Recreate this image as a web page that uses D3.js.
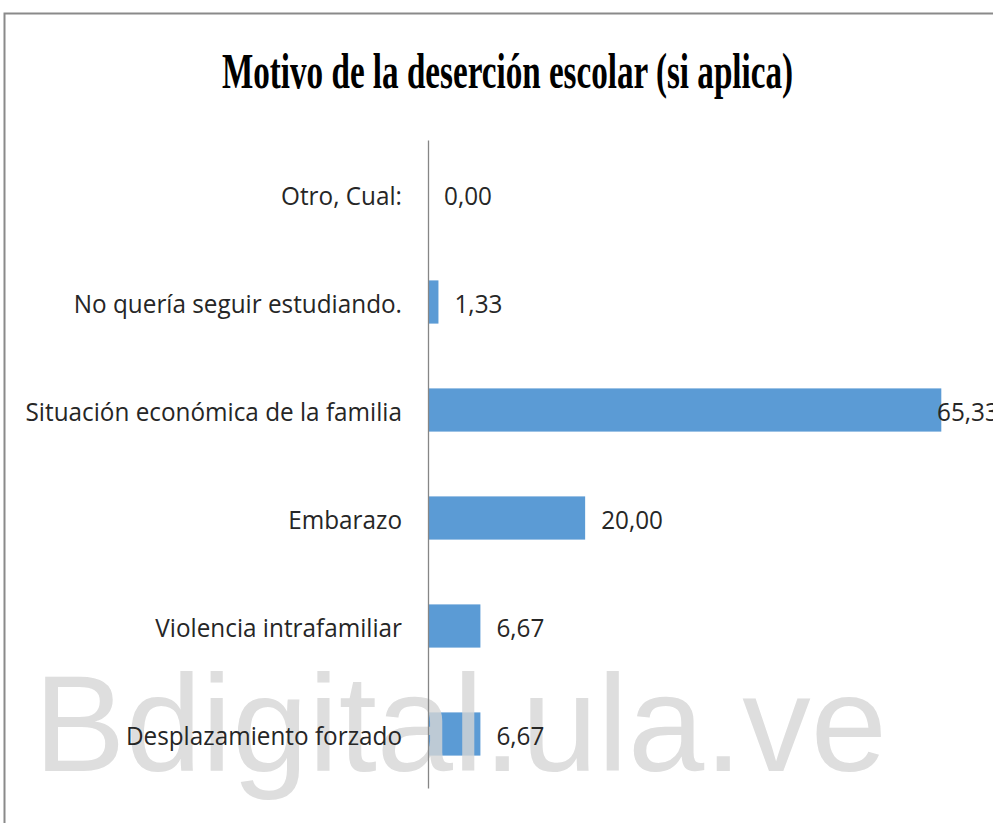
<!DOCTYPE html>
<meta charset="utf-8">
<style>
body { margin: 0; background: #fff; }
.cat text, .val { font-family: "Open Sans", sans-serif; font-size: 26px; fill: #262626; }
.title { font-family: "Liberation Serif", "Times New Roman", serif; font-weight: bold; font-size: 51px; fill: #000; }
.mark { font-family: "Liberation Sans", Arial, sans-serif; font-size: 137px; fill: #d6d6d6; opacity: 0.8; }
</style>
<svg width="993" height="823"></svg>
<script src="https://cdnjs.cloudflare.com/ajax/libs/d3/7.8.5/d3.min.js"></script>
<script>

var categories = ["Otro, Cual:", "No quería seguir estudiando.", "Situación económica de la familia",
                  "Embarazo", "Violencia intrafamiliar", "Desplazamiento forzado"];
var values = [0.00, 1.33, 65.33, 20.00, 6.67, 6.67];

var svg = d3.select("svg"),
    W = +svg.attr("width"),
    H = +svg.attr("height"),
    squeeze = 0.935;

var es = d3.formatLocale({decimal: ",", thousands: ".", grouping: [3], currency: ["", ""]}),
    fmt = es.format(".2f");

var y = d3.scaleBand().domain(categories).range([140, 788]).paddingInner(0.6).paddingOuter(0.3),
    x = d3.scaleLinear().domain([0, 70]).range([428, 978]);

// chart frame (only top and left edges visible)
svg.append("path")
    .attr("d", "M4.5," + H + "V13.5H" + W)
    .attr("fill", "none")
    .attr("stroke", "#8a8a8a")
    .attr("stroke-width", 2);

svg.append("text")
    .attr("class", "title")
    .attr("x", 222)
    .attr("y", 88)
    .attr("textLength", 571)
    .attr("lengthAdjust", "spacingAndGlyphs")
    .text("Motivo de la deserción escolar (si aplica)");

svg.selectAll(".bar")
    .data(values)
  .enter().append("rect")
    .attr("class", "bar")
    .attr("fill", "#5b9bd5")
    .attr("x", x(0))
    .attr("y", function(d, i) { return y(categories[i]); })
    .attr("width", function(d) { return x(d) - x(0); })
    .attr("height", y.bandwidth());

// watermark
svg.append("text")
    .attr("class", "mark")
    .attr("x", 34)
    .attr("y", 771)
    .text("Bdigital.ula.ve");

var ax = svg.append("g")
    .attr("class", "cat")
    .attr("transform", "translate(" + x(0) + ",0)")
    .call(d3.axisLeft(y).tickSize(0).tickSizeOuter(0).tickPadding(0));

ax.select(".domain").attr("stroke", "#868686").attr("stroke-width", 1.3);
ax.selectAll("text")
    .attr("x", 0)
    .attr("dy", "0.42em")
    .attr("font-family", null)
    .attr("font-size", null)
    .attr("fill", null)
    .attr("transform", "translate(-26,0) scale(" + squeeze + ",1)");

svg.selectAll(".val")
    .data(values)
  .enter().append("text")
    .attr("class", "val")
    .attr("dy", "0.42em")
    .attr("transform", function(d, i) {
      var px = Math.min(x(d) + 16, W - 56);
      return "translate(" + px + "," + (y(categories[i]) + y.bandwidth() / 2) + ") scale(" + squeeze + ",1)";
    })
    .text(function(d) { return fmt(d); });

</script>
